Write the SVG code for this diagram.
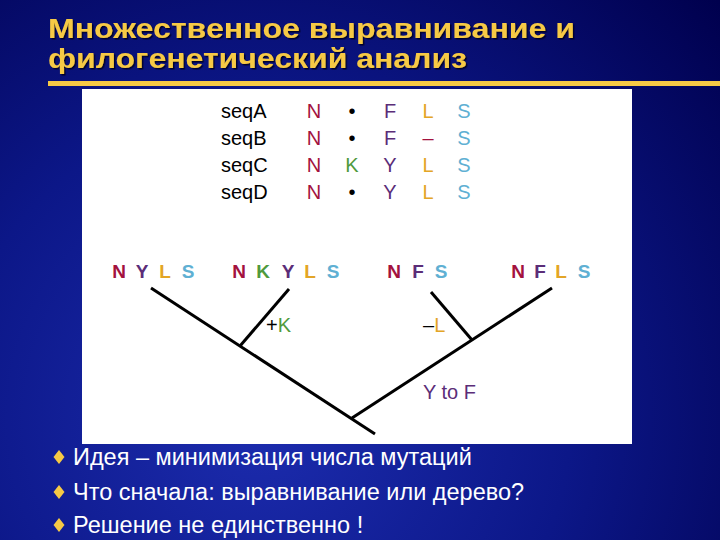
<svg xmlns="http://www.w3.org/2000/svg" width="720" height="540" viewBox="0 0 720 540">
<defs>
<radialGradient id="bg" cx="260" cy="420" r="620" gradientUnits="userSpaceOnUse">
<stop offset="0" stop-color="#1c2cae"/>
<stop offset="0.5" stop-color="#0c1788"/>
<stop offset="1" stop-color="#00004e"/>
</radialGradient>
<filter id="sh" x="-5%" y="-20%" width="110%" height="140%">
<feDropShadow dx="1.5" dy="1.5" stdDeviation="0.6" flood-color="#000020" flood-opacity="0.9"/>
</filter>
<style>
.title{font-family:"Liberation Sans",Arial,sans-serif;font-weight:bold;font-size:28px;fill:#f6c945}
.seq{font-family:"Liberation Sans",Arial,sans-serif;font-size:20px;fill:#000}
.c{font-family:"Liberation Sans",Arial,sans-serif;font-size:20px;text-anchor:middle}
.t{font-family:"Liberation Sans",Arial,sans-serif;font-size:19px;font-weight:bold;text-anchor:middle}
.lab{font-family:"Liberation Sans",Arial,sans-serif;font-size:20px}
.bul{font-family:"Liberation Sans",Arial,sans-serif;font-size:23.5px;fill:#fff}
.N{fill:#a3123e}.F{fill:#5b2d78}.L{fill:#e3a526}.S{fill:#5fb0d3}.K{fill:#4f9a3c}.D{fill:#000}
.edge{stroke:#000;stroke-width:3;fill:none;stroke-linecap:butt}
.dia{fill:#f6c945}
</style>
</defs>
<rect width="720" height="540" fill="url(#bg)"/>
<g id="title" filter="url(#sh)">
<text class="title" x="48" y="38" textLength="527" lengthAdjust="spacingAndGlyphs">Множественное выравнивание и</text>
<text class="title" x="48" y="68" textLength="419" lengthAdjust="spacingAndGlyphs">филогенетический анализ</text>
</g>
<rect x="48" y="81" width="672" height="5" fill="#f6c945"/>
<rect x="82" y="89" width="550" height="355" fill="#fff"/>
<g id="alignment">
<text class="seq" x="221" y="118">seqA</text>
<text class="seq" x="221" y="145">seqB</text>
<text class="seq" x="221" y="172">seqC</text>
<text class="seq" x="221" y="199">seqD</text>
<text class="c N" x="314" y="118">N</text><text class="c D" x="352" y="118">•</text><text class="c F" x="390" y="118">F</text><text class="c L" x="428" y="118">L</text><text class="c S" x="464" y="118">S</text>
<text class="c N" x="314" y="145">N</text><text class="c D" x="352" y="145">•</text><text class="c F" x="390" y="145">F</text><text class="c N" x="428" y="145">–</text><text class="c S" x="464" y="145">S</text>
<text class="c N" x="314" y="172">N</text><text class="c K" x="352" y="172">K</text><text class="c F" x="390" y="172">Y</text><text class="c L" x="428" y="172">L</text><text class="c S" x="464" y="172">S</text>
<text class="c N" x="314" y="199">N</text><text class="c D" x="352" y="199">•</text><text class="c F" x="390" y="199">Y</text><text class="c L" x="428" y="199">L</text><text class="c S" x="464" y="199">S</text>
</g>
<g id="leaf1"><text class="t N" x="119" y="278">N</text><text class="t F" x="142" y="278">Y</text><text class="t L" x="165" y="278">L</text><text class="t S" x="188" y="278">S</text></g>
<g id="leaf2"><text class="t N" x="239" y="278">N</text><text class="t K" x="263" y="278">K</text><text class="t F" x="288" y="278">Y</text><text class="t L" x="310" y="278">L</text><text class="t S" x="333" y="278">S</text></g>
<g id="leaf3"><text class="t N" x="394" y="278">N</text><text class="t F" x="418" y="278">F</text><text class="t S" x="441" y="278">S</text></g>
<g id="leaf4"><text class="t N" x="518" y="278">N</text><text class="t F" x="540" y="278">F</text><text class="t L" x="561" y="278">L</text><text class="t S" x="584" y="278">S</text></g>
<g id="connectors">
<path class="edge" d="M151 288 L375 434"/>
<path class="edge" d="M289 289 L240 346"/>
<path class="edge" d="M552 288 L352 418"/>
<path class="edge" d="M431 292 L472 340"/>
</g>
<g id="labels">
<text class="lab" x="266" y="332"><tspan class="D">+</tspan><tspan class="K">K</tspan></text>
<text class="lab" x="423" y="332"><tspan class="D">–</tspan><tspan class="L">L</tspan></text>
<text class="lab F" x="423" y="399">Y to F</text>
</g>
<g id="bullets">
<polygon class="dia" points="59,450 64.5,457 59,464 53.5,457"/>
<text class="bul" x="73" y="465">Идея – минимизация числа мутаций</text>
<polygon class="dia" points="59,485 64.5,492 59,499 53.5,492"/>
<text class="bul" x="73" y="500">Что сначала: выравнивание или дерево?</text>
<polygon class="dia" points="59,518 64.5,525 59,532 53.5,525"/>
<text class="bul" x="73" y="533">Решение не единственно !</text>
</g>
</svg>
